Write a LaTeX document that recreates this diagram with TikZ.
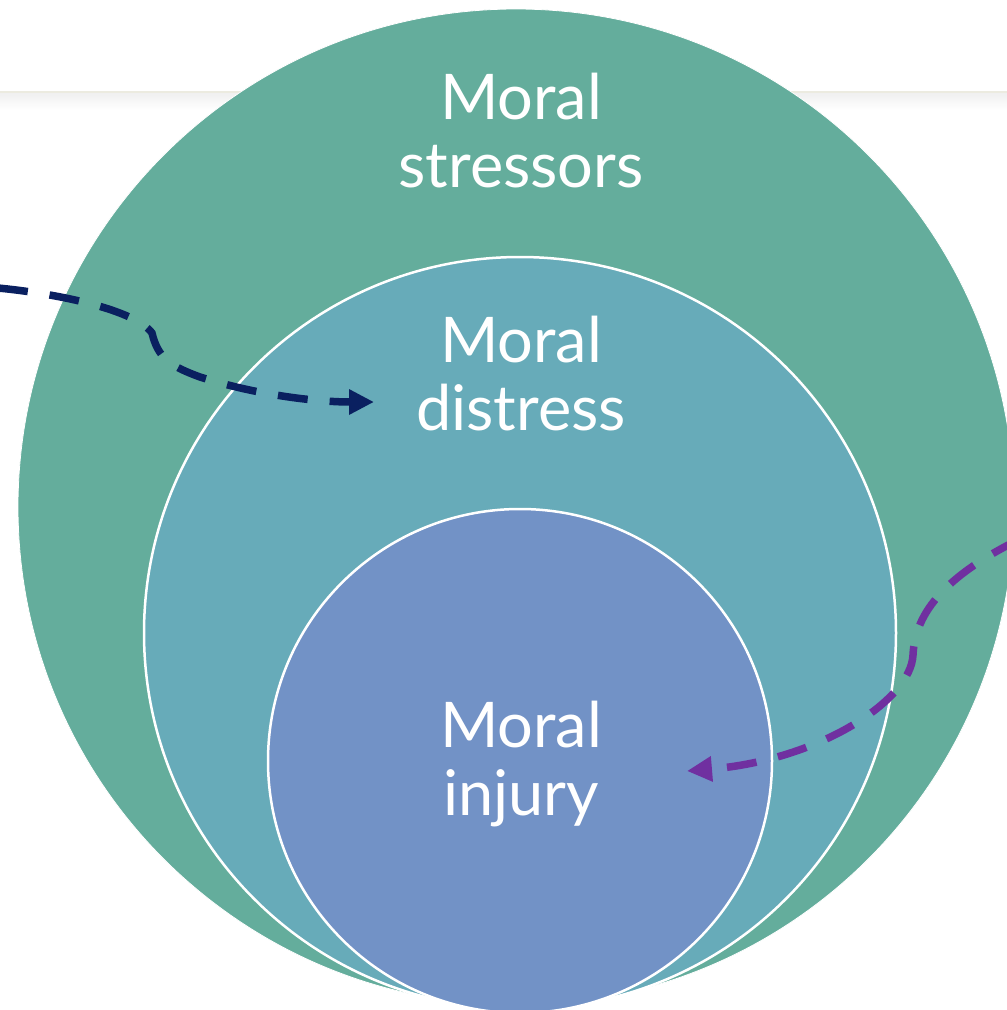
\documentclass[tikz,border=0pt]{standalone}
\usepackage{fontspec}
\setmainfont{Lato}
\usetikzlibrary{arrows.meta}
\definecolor{cstress}{HTML}{64AD9C}
\definecolor{cdistress}{HTML}{67ABB9}
\definecolor{cinjury}{HTML}{7292C6}
\definecolor{cnavy}{HTML}{0A2060}
\definecolor{cpurple}{HTML}{7030A0}
\definecolor{cline}{HTML}{ECEBE0}
\tikzset{
  ring/.style={circle, inner sep=0pt, outer sep=0pt, draw=white},
  lbl/.style={text=white, anchor=base, inner sep=0pt, font=\fontsize{63}{68}\selectfont},
  dasharrow/.style={line width=7.5pt, dash pattern=on 30pt off 22pt,
    -{Triangle[length=25pt,width=24pt]}}
}
\begin{document}
\begin{tikzpicture}[x=1pt,y=-1pt]
\useasboundingbox (0,0) rectangle (1007,1010);
\clip (0,0) rectangle (1007,1010);
\fill[white] (0,0) rectangle (1007,1010);
% top rule with soft shadow
\shade[top color=black!6, bottom color=white] (0,93) rectangle (1007,110);
\draw[cline, line width=2pt] (0,92) -- (1007,92);
% circles
\node[ring, fill=cstress, line width=0.8pt, minimum size=996pt] (stress) at (516,507) {};
\node[ring, fill=cdistress, line width=2.5pt, minimum size=752pt] (distress) at (520,633) {};
\node[ring, fill=cinjury, line width=2.5pt, minimum size=504pt] (injury) at (520,761) {};
% labels
\node[lbl] (t1a) at (521,119) {Moral};
\node[lbl] (t1b) at (521,187) {stressors};
\node[lbl] (t2a) at (521,362) {Moral};
\node[lbl] (t2b) at (521,430) {distress};
\node[lbl] (t3a) at (521,747) {Moral};
\node[lbl] (t3b) at (521,815) {injury};
% arrows
\coordinate (navyStart) at (-2,288);
\coordinate (navyEnd) at (374,402);
\coordinate (purpStart) at (1012,543);
\coordinate (purpEnd) at (687,771);
\draw[cnavy, dasharrow] (navyStart) .. controls (60,294) and (135,310) .. (152,333)
  .. controls (158,358) and (170,366) .. (200,377)
  .. controls (260,396) and (320,402) .. (navyEnd);
\draw[cpurple, dasharrow, dash phase=8pt] (purpStart) .. controls (950,575) and (915,610) .. (913,655)
  .. controls (911,700) and (820,760) .. (purpEnd);
\end{tikzpicture}
\end{document}
